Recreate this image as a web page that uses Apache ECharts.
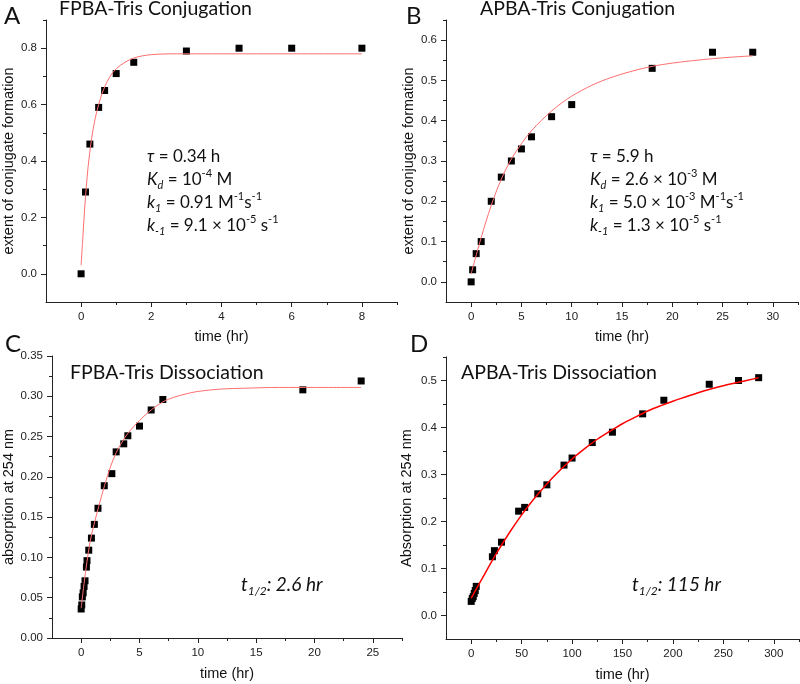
<!DOCTYPE html>
<html><head><meta charset="utf-8">
<script src="https://cdn.jsdelivr.net/npm/echarts@6/dist/echarts.min.js"></script>
<style>html,body{margin:0;padding:0;background:#fff}#c{width:800px;height:684px}</style>
</head><body><div id="c"></div>
<script>
// ---------- Panel A : FPBA-Tris Conjugation ----------
const aTime   = [0, 0.125, 0.25, 0.5, 0.67, 1, 1.5, 3, 4.5, 6, 8];
const aExtent = [0, 0.29, 0.46, 0.59, 0.65, 0.71, 0.75, 0.79, 0.80, 0.80, 0.80];
const aFitTime   = [0, 0.05, 0.1, 0.15, 0.2, 0.3, 0.4, 0.5, 0.6, 0.8, 1.0, 1.25, 1.5, 1.75, 2, 2.5, 3, 4, 6, 8];
const aFitExtent = [0.03, 0.13, 0.23, 0.31, 0.38, 0.48, 0.55, 0.60, 0.64, 0.695, 0.727, 0.75, 0.765, 0.773, 0.777, 0.78, 0.78, 0.78, 0.78, 0.78];
const aXMajor = [0, 2, 4, 6, 8];
const aXMinor = [1, 3, 5, 7, 9];
const aYMajor = [0, 0.2, 0.4, 0.6, 0.8];
const aYMinor = [0.1, 0.3, 0.5, 0.7, 0.9];

// ---------- Panel B : APBA-Tris Conjugation ----------
const bTime   = [0, 0.15, 0.5, 1, 2, 3, 4, 5, 6, 8, 10, 18, 24, 28];
const bExtent = [0, 0.03, 0.07, 0.10, 0.20, 0.26, 0.30, 0.33, 0.36, 0.41, 0.44, 0.53, 0.57, 0.57];
const bFitTime   = [0, 1, 2, 3, 4, 5, 6, 7, 8, 9, 10, 12, 14, 16, 18, 20, 22, 24, 26, 28];
const bFitExtent = [0.02, 0.11, 0.19, 0.255, 0.305, 0.343, 0.375, 0.401, 0.424, 0.444, 0.461, 0.488, 0.508, 0.523, 0.535, 0.543, 0.549, 0.554, 0.558, 0.561];
const bXMajor = [0, 5, 10, 15, 20, 25, 30];
const bXMinor = [2.5, 7.5, 12.5, 17.5, 22.5, 27.5, 32.5];
const bYMajor = [0, 0.1, 0.2, 0.3, 0.4, 0.5, 0.6];
const bYMinor = [0.05, 0.15, 0.25, 0.35, 0.45, 0.55, 0.65];

// ---------- Panel C : FPBA-Tris Dissociation ----------
const cTime = [0, 0.05, 0.1, 0.17, 0.25, 0.33, 0.45, 0.5, 0.65, 0.88, 1.13, 1.44, 1.98, 2.63, 3.0, 3.65, 4.0, 5.0, 6.0, 7.0, 19, 24];
const cAbs  = [0.036, 0.041, 0.051, 0.056, 0.064, 0.071, 0.088, 0.096, 0.109, 0.124, 0.141, 0.161, 0.189, 0.204, 0.231, 0.241, 0.251, 0.263, 0.283, 0.296, 0.308, 0.319];
const cFitTime = [0, 0.25, 0.5, 0.75, 1, 1.5, 2, 2.5, 3, 3.5, 4, 5, 6, 7, 8, 9, 10, 12, 14, 17, 20, 24];
const cFitAbs  = [0.037, 0.068, 0.095, 0.118, 0.135, 0.163, 0.189, 0.212, 0.230, 0.243, 0.254, 0.270, 0.283, 0.293, 0.299, 0.303, 0.306, 0.309, 0.310, 0.311, 0.311, 0.311];
const cXMajor = [0, 5, 10, 15, 20, 25];
const cXMinor = [2.5, 7.5, 12.5, 17.5, 22.5, 27.5];
const cYMajor = [0, 0.05, 0.1, 0.15, 0.2, 0.25, 0.3, 0.35];
const cYMinor = [0.025, 0.075, 0.125, 0.175, 0.225, 0.275, 0.325];

// ---------- Panel D : APBA-Tris Dissociation ----------
const dTime = [0, 1, 2, 3, 4, 5, 21, 23, 30, 47, 53, 66, 75, 92, 100, 120, 140, 170, 191, 236, 265, 285];
const dAbs  = [0.030, 0.036, 0.040, 0.047, 0.053, 0.062, 0.125, 0.138, 0.156, 0.222, 0.230, 0.259, 0.278, 0.320, 0.335, 0.368, 0.390, 0.429, 0.458, 0.492, 0.500, 0.506];
const dFitTime = [0, 12.5, 25, 37.5, 50, 62.5, 75, 87.5, 100, 112.5, 125, 137.5, 150, 162.5, 175, 187.5, 200, 212.5, 225, 237.5, 250, 262.5, 275, 285];
const dFitAbs  = [0.037, 0.085, 0.132, 0.175, 0.214, 0.249, 0.280, 0.308, 0.333, 0.355, 0.375, 0.392, 0.408, 0.422, 0.435, 0.446, 0.456, 0.465, 0.474, 0.482, 0.489, 0.495, 0.501, 0.506];
const dXMajor = [0, 50, 100, 150, 200, 250, 300];
const dXMinor = [25, 75, 125, 175, 225, 275, 325];
const dYMajor = [0, 0.1, 0.2, 0.3, 0.4, 0.5];
const dYMinor = [0.05, 0.15, 0.25, 0.35, 0.45, 0.55];

// ---------- text ----------
const titles = ['FPBA-Tris Conjugation', 'APBA-Tris Conjugation', 'FPBA-Tris Dissociation', 'APBA-Tris Dissociation'];
const panelLetters = ['A', 'B', 'C', 'D'];
const xName = 'time (hr)';
const yNames = ['extent of conjugate formation', 'extent of conjugate formation', 'absorption at 254 nm', 'Absorption at 254 nm'];

const NUM_FONT = '"Liberation Sans", Arial, sans-serif';
const TXT_FONT = 'Lato, "Open Sans", sans-serif';
const AX = '#222';

function zip(xs, ys) { return xs.map((x, i) => [x, ys[i]]); }

const grids = [
  {left: 45, top: 20, width: 352, height: 282},
  {left: 446, top: 20, width: 352, height: 282},
  {left: 50, top: 356, width: 352, height: 282},
  {left: 446, top: 357, width: 353, height: 282}
];

function mkAxes(g, dim, min, max, major, minor, dec, name, gap) {
  const pos = dim === 'x' ? 'bottom' : 'left';
  const main = {
    type: 'value', gridIndex: g, min: min, max: max, position: pos,
    name: name, nameLocation: 'middle', nameGap: gap,
    nameTextStyle: {fontFamily: NUM_FONT, fontSize: 14.5, color: '#111'},
    axisLine: {show: true, onZero: false, lineStyle: {color: AX, width: 1}},
    axisTick: {show: true, inside: false, length: 5, customValues: major, lineStyle: {color: AX, width: 1}},
    axisLabel: {customValues: major, margin: 9, fontFamily: NUM_FONT, fontSize: 11.5, color: '#222',
      formatter: v => Number(v).toFixed(dec)},
    splitLine: {show: false}
  };
  const mn = {
    type: 'value', gridIndex: g, min: min, max: max, position: pos,
    axisLine: {show: false, onZero: false},
    axisTick: {show: true, inside: false, length: 3, customValues: minor, lineStyle: {color: AX, width: 1}},
    axisLabel: {show: false},
    splitLine: {show: false}
  };
  return [main, mn];
}

const xAxis = [
  ...mkAxes(0, 'x', -1, 9, aXMajor, aXMinor, 0, xName, 27),
  ...mkAxes(1, 'x', -2.5, 32.5, bXMajor, bXMinor, 0, xName, 27),
  ...mkAxes(2, 'x', -2.5, 27.5, cXMajor, cXMinor, 0, xName, 28),
  ...mkAxes(3, 'x', -25, 325, dXMajor, dXMinor, 0, xName, 28)
];
const yAxis = [
  ...mkAxes(0, 'y', -0.1, 0.9, aYMajor, aYMinor, 1, yNames[0], 30),
  ...mkAxes(1, 'y', -0.05, 0.65, bYMajor, bYMinor, 1, yNames[1], 30),
  ...mkAxes(2, 'y', 0, 0.35, cYMajor, cYMinor, 2, yNames[2], 36),
  ...mkAxes(3, 'y', -0.05, 0.55, dYMajor, dYMinor, 1, yNames[3], 32)
];

function scatter(g, data) {
  return {type: 'scatter', xAxisIndex: 2 * g, yAxisIndex: 2 * g, data: data,
    symbol: 'rect', symbolSize: 7, itemStyle: {color: '#000', opacity: 1}, z: 2, silent: true};
}
function fit(g, data, color, w) {
  return {type: 'line', xAxisIndex: 2 * g, yAxisIndex: 2 * g, data: data, showSymbol: false,
    smooth: 0.35, lineStyle: {color: color, width: w}, z: 3, silent: true};
}

const series = [
  scatter(0, zip(aTime, aExtent)), fit(0, zip(aFitTime, aFitExtent), '#ff6f6f', 1),
  scatter(1, zip(bTime, bExtent)), fit(1, zip(bFitTime, bFitExtent), '#ff6f6f', 1),
  scatter(2, zip(cTime, cAbs)), fit(2, zip(cFitTime, cFitAbs), '#ff6f6f', 1),
  scatter(3, zip(dTime, dAbs)), fit(3, zip(dFitTime, dFitAbs), '#ff0000', 1.5)
];

const annRich = {
  n:   {fontFamily: TXT_FONT, fontSize: 17, lineHeight: 23, fill: '#111', verticalAlign: 'middle'},
  it:  {fontFamily: TXT_FONT, fontSize: 17, fontStyle: 'italic', lineHeight: 23, fill: '#111', verticalAlign: 'middle'},
  sup: {fontFamily: TXT_FONT, fontSize: 11, lineHeight: 15, fill: '#111', verticalAlign: 'top'},
  sub: {fontFamily: TXT_FONT, fontSize: 11, fontStyle: 'italic', lineHeight: 11, fill: '#111', verticalAlign: 'bottom'}
};
const annA = [
  '{it|τ}{n| = 0.34 h}',
  '{it|K}{sub|d}{n| = 10}{sup|-4}{n| M}',
  '{it|k}{sub|1}{n| = 0.91 M}{sup|-1}{n|s}{sup|-1}',
  '{it|k}{sub|-1}{n| = 9.1 × 10}{sup|-5}{n| s}{sup|-1}'
].join('\n');
const annB = [
  '{it|τ}{n| = 5.9 h}',
  '{it|K}{sub|d}{n| = 2.6 × 10}{sup|-3}{n| M}',
  '{it|k}{sub|1}{n| = 5.0 × 10}{sup|-3}{n| M}{sup|-1}{n|s}{sup|-1}',
  '{it|k}{sub|-1}{n| = 1.3 × 10}{sup|-5}{n| s}{sup|-1}'
].join('\n');
const halfRich = {
  it:  {fontFamily: TXT_FONT, fontSize: 19, fontStyle: 'italic', lineHeight: 24, fill: '#111', verticalAlign: 'middle'},
  sub: {fontFamily: TXT_FONT, fontSize: 12, fontStyle: 'italic', lineHeight: 12, fill: '#111', verticalAlign: 'bottom'}
};
const halfC = '{it|t}{sub|1/2}{it|: 2.6 hr}';
const halfD = '{it|t}{sub|1/2}{it|: 115 hr}';

function txt(x, y, text, size, va) {
  return {type: 'text', x: x, y: y, silent: true,
    style: {text: text, fontFamily: TXT_FONT, fontSize: size, fill: '#111', align: 'left', verticalAlign: va || 'middle'}};
}
function rtxt(x, y, text, rich) {
  return {type: 'text', x: x, y: y, silent: true,
    style: {text: text, rich: rich, align: 'left', verticalAlign: 'top'}};
}

const graphic = [
  txt(4, 16, panelLetters[0], 24), txt(406, 16, panelLetters[1], 24),
  txt(5, 344, panelLetters[2], 24), txt(410, 344, panelLetters[3], 24),
  txt(59, 9, titles[0], 19.5), txt(480, 9, titles[1], 19.5),
  txt(70, 373, titles[2], 19.5), txt(461, 373, titles[3], 19.5),
  rtxt(147, 145, annA, annRich),
  rtxt(590, 145, annB, annRich),
  rtxt(241, 573, halfC, halfRich),
  rtxt(632, 573, halfD, halfRich)
];

const chart = echarts.init(document.getElementById('c'), null, {renderer: 'canvas'});
chart.setOption({
  animation: false,
  backgroundColor: '#fff',
  grid: grids,
  xAxis: xAxis,
  yAxis: yAxis,
  series: series,
  graphic: graphic
});
</script></body></html>
